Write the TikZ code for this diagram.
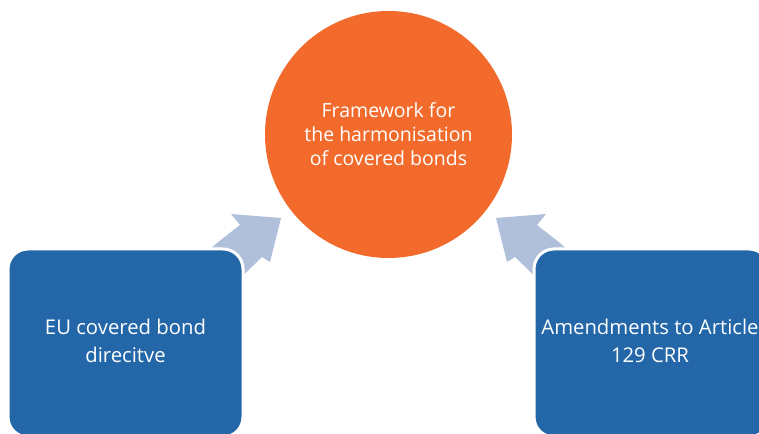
\documentclass[tikz,border=0pt]{standalone}
\usepackage{fontspec}
\setmainfont{Open Sans}
\usepackage{tikz}

\definecolor{framecol}{HTML}{F26B2C}
\definecolor{boxcol}{HTML}{2367A9}
\definecolor{arrowcol}{HTML}{B0BFDA}

\tikzset{
  boxtext/.style={text=white, align=center, font=\fontsize{19.5}{24}\selectfont},
  sourcetext/.style={boxtext, font=\fontsize{20.3}{27.5}\selectfont},
  sourcebox/.style={fill=boxcol, draw=white, line width=3pt, rounded corners=20pt},
  blockarrow/.style={fill=arrowcol}
}

\begin{document}
\begin{tikzpicture}[x=1pt,y=1pt]
\useasboundingbox (0,0) rectangle (759,433);
\clip (0,0) rectangle (759,433);

% the framework in the middle
\fill[framecol] (388.5,298.5) circle (123.5);
\node (frame) at (388.5,299) [boxtext] {Framework for\\the harmonisation\\of covered bonds};

% arrows
\fill[blockarrow] (200,175) -- (217,190) -- (240,208) -- (231,219) -- (281,215)
  -- (270,171) -- (262,176) -- (225,140) -- cycle;
\fill[blockarrow] (577,175) -- (560,190) -- (537,208) -- (546,219) -- (496,215)
  -- (507,171) -- (515,176) -- (552,140) -- cycle;

% the two sources
\draw[sourcebox] (8,-4) rectangle (243,184);
\node (directive) at (125.5,92) [sourcetext] {EU covered bond\\direcitve};

\draw[sourcebox] (534,-4) rectangle (769,184);
\node (crr) at (650,92) [sourcetext] {Amendments to Article\\129 CRR};
\end{tikzpicture}
\end{document}
